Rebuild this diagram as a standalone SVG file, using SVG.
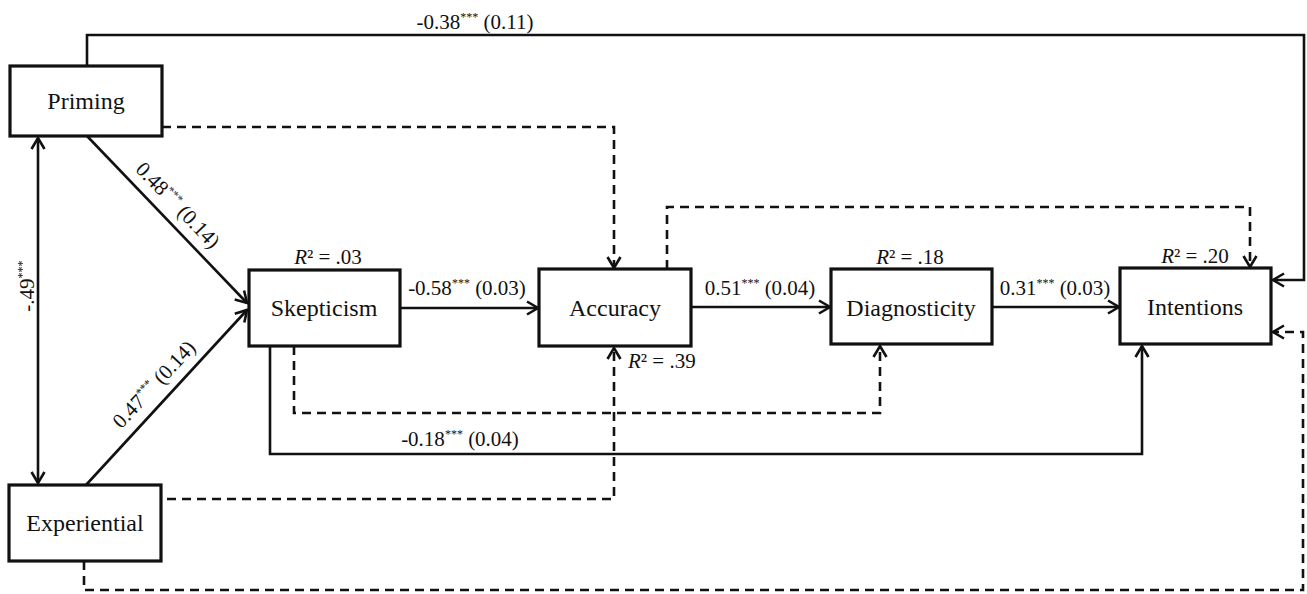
<svg xmlns="http://www.w3.org/2000/svg" width="1307" height="594" viewBox="0 0 1307 594">
<style>
.box{fill:#fff;stroke:#111;stroke-width:3.2}
.node{font-family:"Liberation Serif","Times New Roman",serif;font-size:24px;fill:#111;text-anchor:middle}
.lbl{font-family:"Liberation Serif","Times New Roman",serif;font-size:21px;fill:#111;text-anchor:middle}
.sol{fill:none;stroke:#111;stroke-width:2.6}
.dash{fill:none;stroke:#111;stroke-width:2.6;stroke-dasharray:9,6}
</style>
<defs>
<marker id="ah" markerUnits="userSpaceOnUse" markerWidth="16" markerHeight="16" refX="12" refY="8" orient="auto-start-reverse">
<path d="M1,1.5 L12,8 L1,14.5" fill="none" stroke="#111" stroke-width="2.6"/>
</marker>
</defs>
<rect width="1307" height="594" fill="#fff"/>
<g id="connectors">
<path class="sol" d="M87,66 V35 H1304 V280 H1273" marker-end="url(#ah)"/>
<path class="sol" d="M38,138 V483" marker-start="url(#ah)" marker-end="url(#ah)"/>
<path class="sol" d="M87,136 L247,303" marker-end="url(#ah)"/>
<path class="sol" d="M86,485 L247,310" marker-end="url(#ah)"/>
<path class="sol" d="M400,308 H538" marker-end="url(#ah)"/>
<path class="sol" d="M691,307 H830" marker-end="url(#ah)"/>
<path class="sol" d="M992,307 H1119" marker-end="url(#ah)"/>
<path class="sol" d="M270,346 V454 H1142 V346" marker-end="url(#ah)"/>
<path class="dash" d="M162,127 H614 V268" marker-end="url(#ah)"/>
<path class="dash" d="M667,269 V207 H1250 V267" marker-end="url(#ah)"/>
<path class="dash" d="M294,346 V413 H880 V346" marker-end="url(#ah)"/>
<path class="dash" d="M167,499 H614 V348" marker-end="url(#ah)"/>
<path class="dash" d="M84,561 V590 H1303 V332 H1273" marker-end="url(#ah)"/>
</g>
<g id="edge-labels">
<text class="lbl" x="475" y="29">-0.38<tspan dy="-8" font-size="12">***</tspan><tspan dy="8"> (0.11)</tspan></text>
<text class="lbl" x="467" y="295">-0.58<tspan dy="-8" font-size="12">***</tspan><tspan dy="8"> (0.03)</tspan></text>
<text class="lbl" x="760" y="295">0.51<tspan dy="-8" font-size="12">***</tspan><tspan dy="8"> (0.04)</tspan></text>
<text class="lbl" x="1055" y="295">0.31<tspan dy="-8" font-size="12">***</tspan><tspan dy="8"> (0.03)</tspan></text>
<text class="lbl" x="460" y="446">-0.18<tspan dy="-8" font-size="12">***</tspan><tspan dy="8"> (0.04)</tspan></text>
<text class="lbl" transform="translate(173,210) rotate(46)">0.48<tspan dy="-8" font-size="12">***</tspan><tspan dy="8">  (0.14)</tspan></text>
<text class="lbl" transform="translate(159,389) rotate(-47)">0.47<tspan dy="-8" font-size="12">***</tspan><tspan dy="8"> (0.14)</tspan></text>
<text class="lbl" transform="translate(34,286) rotate(-90)">-.49<tspan dy="-8" font-size="12">***</tspan></text>
</g>
<g id="r2-labels">
<text class="lbl" x="328" y="264"><tspan font-style="italic">R</tspan>² = .03</text>
<text class="lbl" x="910" y="264"><tspan font-style="italic">R</tspan>² = .18</text>
<text class="lbl" x="1195" y="263"><tspan font-style="italic">R</tspan>² = .20</text>
<text class="lbl" x="628" y="368" style="text-anchor:start"><tspan font-style="italic">R</tspan>² = .39</text>
</g>
<g id="priming"><rect class="box" x="10" y="66" width="152" height="70"/><text class="node" x="86" y="109">Priming</text></g>
<g id="experiential"><rect class="box" x="9" y="485" width="152" height="76"/><text class="node" x="85" y="531">Experiential</text></g>
<g id="skepticism"><rect class="box" x="249" y="270" width="151" height="76"/><text class="node" x="324" y="316">Skepticism</text></g>
<g id="accuracy"><rect class="box" x="539" y="269" width="152" height="77"/><text class="node" x="615" y="316">Accuracy</text></g>
<g id="diagnosticity"><rect class="box" x="831" y="269" width="161" height="75"/><text class="node" x="911" y="316">Diagnosticity</text></g>
<g id="intentions"><rect class="box" x="1120" y="268" width="151" height="76"/><text class="node" x="1195" y="315">Intentions</text></g>
</svg>
